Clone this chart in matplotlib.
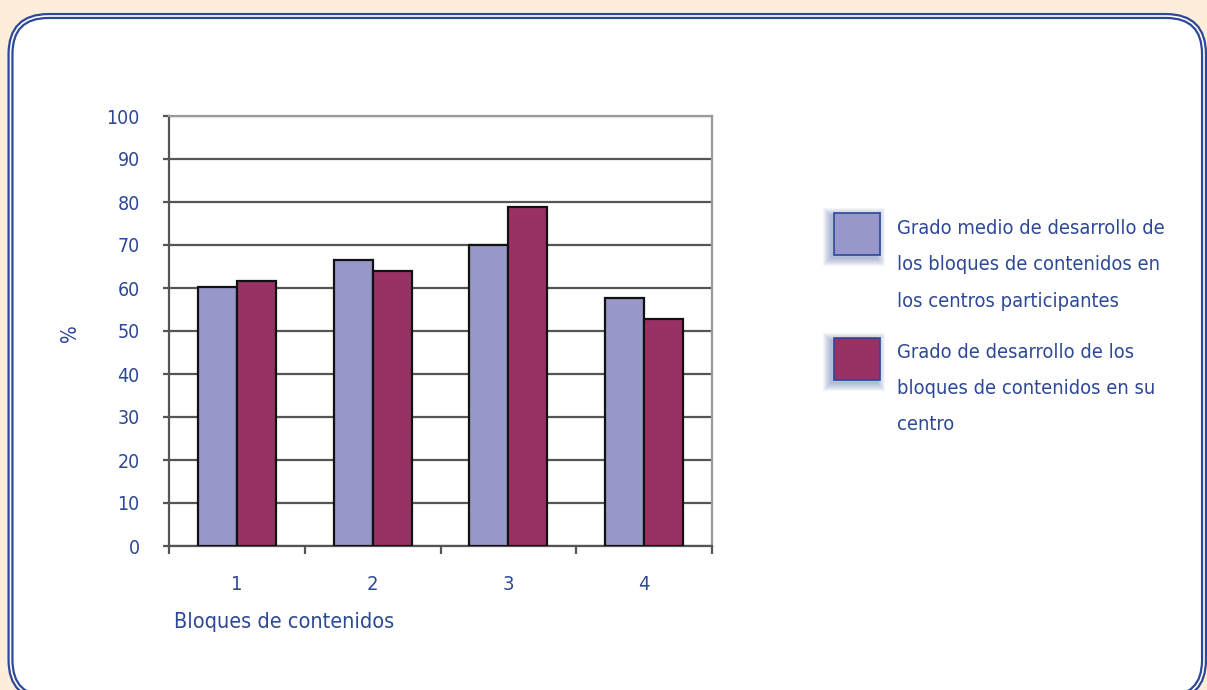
import matplotlib
matplotlib.use("Agg")
import matplotlib.pyplot as plt
from matplotlib.patches import FancyBboxPatch, Rectangle
import numpy as np

categories = ["1", "2", "3", "4"]
grado_medio = [60.2, 66.5, 70.0, 57.6]
grado_centro = [61.7, 64.0, 78.9, 52.7]
y_ticks = [0, 10, 20, 30, 40, 50, 60, 70, 80, 90, 100]
legend_lines = [
    ["Grado medio de desarrollo de", "los bloques de contenidos en", "los centros participantes"],
    ["Grado de desarrollo de los", "bloques de contenidos en su", "centro"],
]
x_label = "Bloques de contenidos"
y_label = "%"

NAVY = "#2d4897"
C_MEDIO = "#9797c9"
C_CENTRO = "#983265"

plt.rcParams["font.family"] = ["DejaVu Sans"]
plt.rcParams["font.stretch"] = "condensed"

W, H = 1207, 690
fig = plt.figure(figsize=(W / 100, H / 100), dpi=100)
fig.patch.set_facecolor("#fdeedb")


def px(x, y):
    # pixel coords (from top-left) -> figure fraction
    return x / W, 1 - y / H


# white panel with double navy border
box = dict(boxstyle="round,pad=0,rounding_size=0.38", transform=fig.dpi_scale_trans)
panel = FancyBboxPatch((10.5 / 100, -0.08), (1204 - 10.5) / 100, (690 - 16) / 100 + 0.08,
                       facecolor="white", edgecolor=NAVY, linewidth=4.4, zorder=0, **box)
fig.patches.append(panel)
inner = FancyBboxPatch((10.5 / 100, -0.08), (1204 - 10.5) / 100, (690 - 16) / 100 + 0.08,
                       facecolor="none", edgecolor="white", linewidth=1.2, zorder=0.5, **box)
fig.patches.append(inner)

l, t = px(169, 116)
r, b = px(712, 546)
ax = fig.add_axes([l, b, r - l, t - b])
ax.set_zorder(3)
ax.set_facecolor("white")

x = np.arange(len(categories))
w = 0.287
ax.bar(x - w / 2, grado_medio, w, color=C_MEDIO, edgecolor="#111111", linewidth=1.6, zorder=3)
ax.bar(x + w / 2, grado_centro, w, color=C_CENTRO, edgecolor="#111111", linewidth=1.6, zorder=3)

ax.set_xlim(-0.5, len(categories) - 0.5)
ax.set_ylim(0, 100)
ax.set_yticks(y_ticks)
ax.yaxis.grid(True, color="#555555", linewidth=1.6)
ax.set_axisbelow(True)

ax.set_xticks(np.arange(len(categories) + 1) - 0.5)
ax.set_xticklabels([])
ax.set_xticks(x, minor=True)
ax.set_xticklabels(categories, minor=True)
ax.tick_params(axis="x", which="major", length=6, width=1.6, color="#555555", direction="out")
ax.tick_params(axis="x", which="minor", length=0, pad=21, labelsize=14.5, labelcolor=NAVY)
ax.tick_params(axis="y", length=4, width=1.6, color="#555555", pad=17, labelsize=14, labelcolor=NAVY)

for side in ["left", "bottom"]:
    ax.spines[side].set_color("#555555")
    ax.spines[side].set_linewidth(1.6)
for side in ["top", "right"]:
    ax.spines[side].set_color("#9a9a9a")
    ax.spines[side].set_linewidth(1.6)

fig.text(*px(174, 622), x_label, color=NAVY, fontsize=15.5, ha="left", va="center")
fig.text(*px(70, 333), y_label, color=NAVY, fontsize=15, ha="center", va="center", rotation=90)

# legend: swatches with soft glow, text lines
swatches = [(834, 213, C_MEDIO), (834, 338, C_CENTRO)]
line_y = [[228, 265, 301], [352, 389, 425]]
for (sx, sy, col), lines, ys in zip(swatches, legend_lines, line_y):
    for k in range(8, 0, -1):
        gx, gy = px(sx - k - 3, sy + 42 + k + 3)
        gw = (46 + 2 * k) / W
        gh = (42 + 2 * k) / H
        fig.patches.append(Rectangle((gx, gy), gw, gh, transform=fig.transFigure,
                                     facecolor=NAVY, edgecolor="none", alpha=0.05, zorder=1))
    rx, ry = px(sx, sy + 42)
    fig.patches.append(Rectangle((rx, ry), 46 / W, 42 / H, transform=fig.transFigure,
                                 facecolor=col, edgecolor=NAVY, linewidth=1.2, zorder=2))
    for line, yy in zip(lines, ys):
        fig.text(*px(897, yy), line, color=NAVY, fontsize=14.4, ha="left", va="center")

fig.savefig("out.png", dpi=100, facecolor=fig.get_facecolor())
